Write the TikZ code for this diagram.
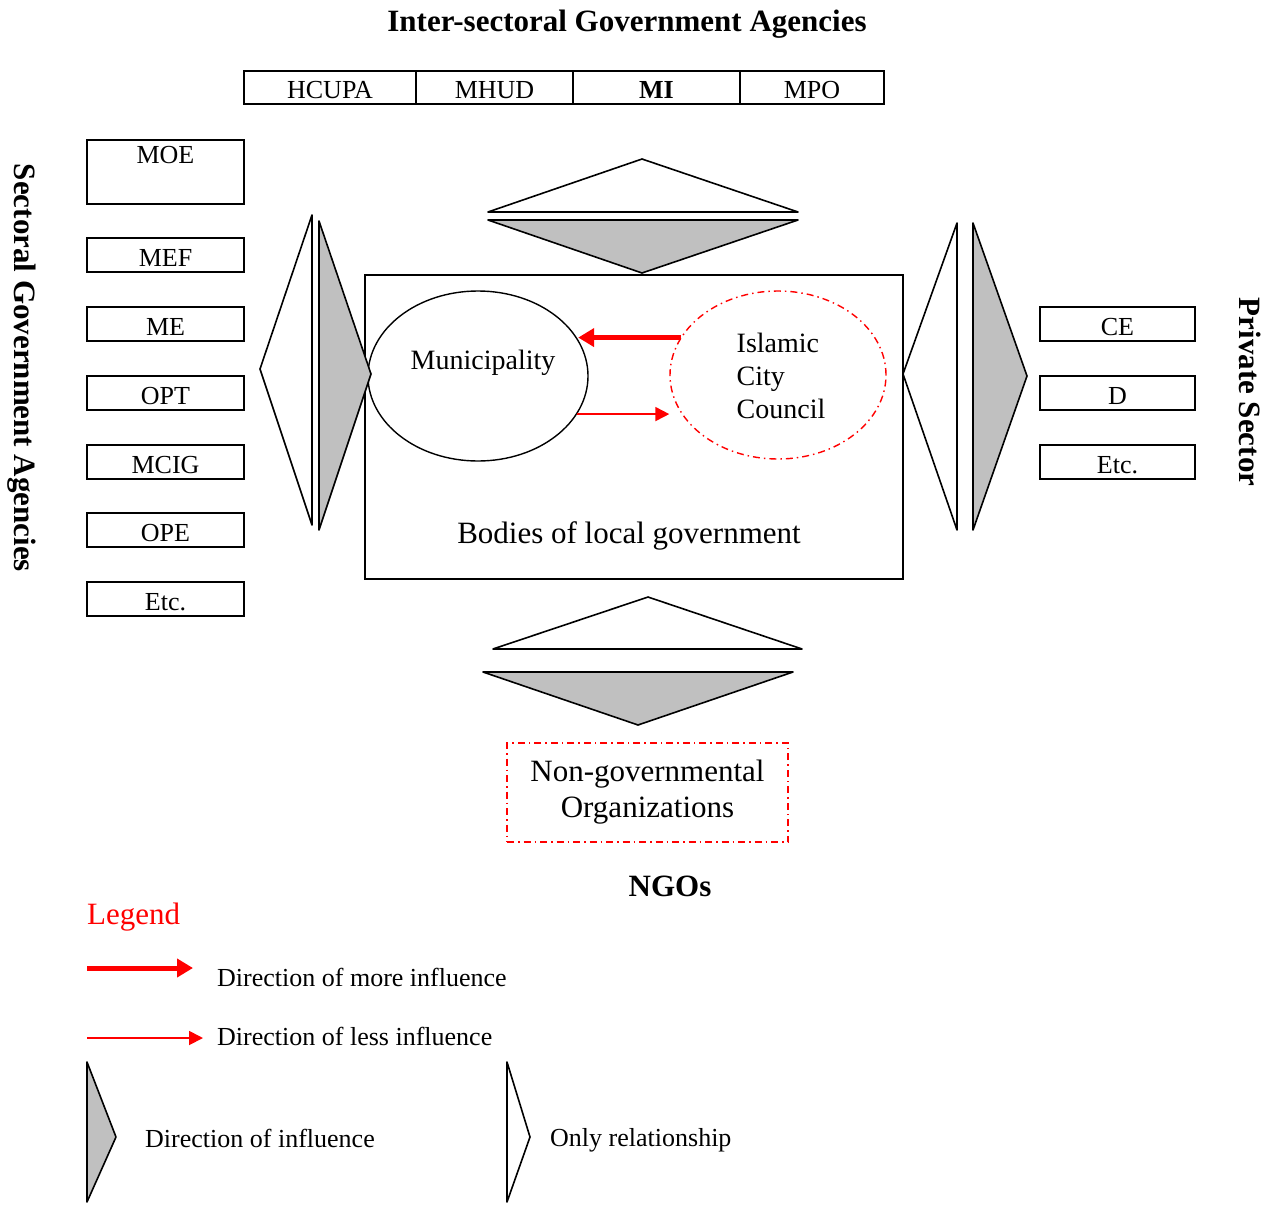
\documentclass[tikz,border=0pt]{standalone}
\usepackage{fontspec}
\setmainfont{Liberation Serif}
\usepackage{tikz}
\usetikzlibrary{arrows.meta,positioning,shapes.geometric}
\definecolor{silver}{RGB}{192,192,192}
\tikzset{
  box/.style={draw, line width=1.6pt, inner sep=0pt, outer sep=0pt, align=center, text height=24pt, text depth=2pt, font=\fontsize{26}{30}\selectfont},
  topbox/.style={box, minimum height=33pt},
  sidebox/.style={box, minimum width=157pt, minimum height=34pt},
  hdr/.style={font=\fontsize{31}{36}\selectfont\bfseries},
  txt/.style={inner sep=0pt, font=\fontsize{26}{30}\selectfont},
  big/.style={inner sep=0pt, font=\fontsize{31}{36}\selectfont},
  body/.style={draw, ellipse, line width=1.4pt, inner sep=0pt},
  dashdot/.style={red, line width=1.4pt, dash pattern=on 7pt off 4pt on 1.5pt off 4pt},
  rel/.style={draw, line width=1.6pt, line join=round, fill=white},
  infl/.style={rel, fill=silver},
  morearr/.style={-{Triangle[length=16pt,width=18pt]}, line width=5pt, red},
  lessarr/.style={-{Triangle[length=14pt,width=14pt]}, line width=1.8pt, red},
}
\begin{document}
\begin{tikzpicture}[x=1pt, y=-1pt]
\useasboundingbox (0,0) rectangle (1268,1204);
\node[hdr] (inter) at (627,24) {Inter-sectoral Government Agencies};
\node[topbox, minimum width=172pt] (hcupa) at (330,87.5) {HCUPA};
\node[topbox, minimum width=157pt, right=0pt of hcupa] (mhud) {MHUD};
\node[topbox, minimum width=167pt, right=0pt of mhud] (mi) {\textbf{MI}};
\node[topbox, minimum width=144pt, right=0pt of mi] (mpo) {MPO};
\node[hdr, rotate=-90] (sect) at (22,368) {Sectoral Government Agencies};
\node[sidebox, minimum height=64pt, text height=20pt, text depth=38pt] (moe) at (165.5,172) {MOE};
\node[sidebox, below=34pt of moe] (mef) {MEF};
\node[sidebox, below=35pt of mef] (me) {ME};
\node[sidebox, below=35pt of me] (opt) {OPT};
\node[sidebox, below=35pt of opt] (mcig) {MCIG};
\node[sidebox, below=34pt of mcig] (ope) {OPE};
\node[sidebox, below=35pt of ope] (etcl) {Etc.};
\node[hdr, rotate=-90] (priv) at (1250,392) {Private Sector};
\node[sidebox, minimum width=155pt] (ce) at (1117.5,324) {CE};
\node[sidebox, minimum width=155pt, below=35pt of ce] (d) {D};
\node[sidebox, minimum width=155pt, below=35pt of d] (etcr) {Etc.};
\node[draw, line width=1.6pt, minimum width=538pt, minimum height=304pt] (local) at (634,427) {};
\node[body, minimum width=220pt, minimum height=170pt] (muni) at (478,376) {};
\node[txt, font=\fontsize{28}{33}\selectfont] (munitext) at (483,363) {Municipality};
\node[body, dashdot, minimum width=216pt, minimum height=168pt,
  label={[align=left, font=\fontsize{28}{33}\selectfont, xshift=3pt, yshift=-1pt]center:Islamic\\City\\Council}] (council) at (778,375) {};
\node[big] (bodies) at (629,536) {Bodies of local government};
\draw[morearr] (council.159) -- (council.159 -| muni.20);
\draw[lessarr] (muni.-21.5) -- (muni.-21.5 -| council.west);
\draw[rel] (312,215) -- (260,369) -- (312,525) -- cycle;
\draw[infl] (319,221) -- (371,374) -- (319,530) -- cycle;
\draw[rel] (488,212) -- (642,159) -- (798,212) -- cycle;
\draw[infl] (488,220) -- (798,220) -- (642,273) -- cycle;
\draw[rel] (957,223) -- (903,374) -- (957,530) -- cycle;
\draw[infl] (973,223) -- (1027,376) -- (973,530) -- cycle;
\draw[rel] (493,649) -- (648,597) -- (802,649) -- cycle;
\draw[infl] (483,672) -- (793,672) -- (638,725) -- cycle;
\node[draw, dashdot, minimum width=281pt, minimum height=99pt, align=center, text=black, font=\fontsize{31}{36}\selectfont] (ngo) at (647.5,792.5) {Non-governmental\\Organizations};
\node[hdr] (ngos) at (670,886) {NGOs};
\node[big, red, anchor=west] (legend) at (87,917) {Legend};
\coordinate (more0) at (87,968);
\coordinate (more1) at (193,968);
\draw[morearr] (more0) -- (more1);
\node[txt, anchor=west] (moretext) at (217,977) {Direction of more influence};
\coordinate (less0) at (87,1038);
\coordinate (less1) at (203,1038);
\draw[lessarr] (less0) -- (less1);
\node[txt, anchor=west] (lesstext) at (217,1036) {Direction of less influence};
\draw[infl] (87,1062) -- (116,1137) -- (87,1202) -- cycle;
\node[txt, anchor=west] (infltext) at (145,1138) {Direction of influence};
\draw[rel] (507,1062) -- (530,1137) -- (507,1202) -- cycle;
\node[txt, anchor=west] (reltext) at (550,1140) {Only relationship};
\end{tikzpicture}
\end{document}
